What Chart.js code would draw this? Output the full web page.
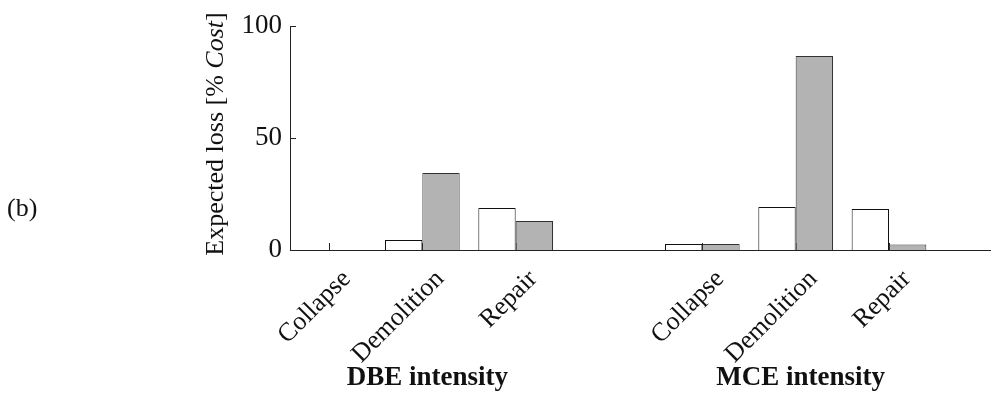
<!DOCTYPE html>
<html>
<head>
<meta charset="utf-8">
<script src="https://cdn.jsdelivr.net/npm/chart.js@4/dist/chart.umd.min.js"></script>
<style>
  html, body { margin: 0; padding: 0; background: #fff; }
  #wrap { width: 991px; height: 394px; position: relative; }
</style>
</head>
<body>
<div id="wrap"><canvas id="lossChart"></canvas></div>
<script>
// categories along the x axis (one empty slot between the two intensities)
const categories = ['Collapse', 'Demolition', 'Repair', 'Collapse', 'Demolition', 'Repair'];
const positions = [1, 2, 3, 5, 6, 7];
// expected loss [% Cost]
const whiteBars = [0, 4.5, 18.8, 2.7, 19.2, 18.3];
const greyBars = [0, 34.4, 12.9, 2.7, 86.6, 2.5];
const groupLabels = ['DBE intensity', 'MCE intensity'];
const groupCentres = [2, 6];
const yTicks = [0, 50, 100];

const serif = '"Liberation Serif", "Times New Roman", serif';
const labelShift = 0.19; // rotated names sit a little right of their bars

const toPoints = vals => vals.map((v, i) => ({ x: positions[i], y: v }));

// inward ticks, group names, y title and panel letter
const extras = {
    id: 'extras',
    beforeDatasetsDraw(chart) {
        const ctx = chart.ctx;
        const xs = chart.scales.x, ys = chart.scales.y;
        ctx.save();
        ctx.strokeStyle = '#222';
        ctx.lineWidth = 1;
        ctx.beginPath();
        yTicks.forEach(v => {
            const py = Math.round(ys.getPixelForValue(v)) + 0.5;
            ctx.moveTo(xs.left, py);
            ctx.lineTo(xs.left + 6, py);
        });
        positions.forEach(p => {
            const px = Math.round(xs.getPixelForValue(p)) + 0.5;
            ctx.moveTo(px, ys.bottom);
            ctx.lineTo(px, ys.bottom - 7);
        });
        ctx.stroke();
        ctx.restore();
    },
    afterDraw(chart) {
        const ctx = chart.ctx;
        const xs = chart.scales.x, ys = chart.scales.y;
        ctx.save();
        ctx.fillStyle = '#111';

        // group labels under the rotated category names
        ctx.font = 'bold 27px ' + serif;
        ctx.textAlign = 'center';
        ctx.textBaseline = 'alphabetic';
        groupLabels.forEach((g, i) => {
            ctx.fillText(g, xs.getPixelForValue(groupCentres[i]) + 5, 385);
        });

        // y axis title with italic "Cost"
        const parts = [
            { t: 'Expected loss [% ', f: '26px ' + serif },
            { t: 'Cost', f: 'italic 26px ' + serif },
            { t: ']', f: '26px ' + serif }
        ];
        let total = 0;
        parts.forEach(p => { ctx.font = p.f; p.w = ctx.measureText(p.t).width; total += p.w; });
        ctx.translate(216, (ys.top + ys.bottom) / 2 - 4);
        ctx.rotate(-Math.PI / 2);
        ctx.textAlign = 'left';
        ctx.textBaseline = 'middle';
        let cx = -total / 2;
        parts.forEach(p => { ctx.font = p.f; ctx.fillText(p.t, cx, 0); cx += p.w; });
        ctx.setTransform(1, 0, 0, 1, 0, 0);

        // panel letter
        ctx.font = '26px ' + serif;
        ctx.textAlign = 'left';
        ctx.textBaseline = 'middle';
        ctx.fillText('(b)', 7, 209);
        ctx.restore();
    }
};

const ctx = document.getElementById('lossChart').getContext('2d');
const lossChart = new Chart(ctx, {
    type: 'bar',
    data: {
        datasets: [
            {
                label: 'white',
                data: toPoints(whiteBars),
                backgroundColor: '#ffffff',
                borderColor: '#111111',
                borderWidth: 1
            },
            {
                label: 'grey',
                data: toPoints(greyBars),
                backgroundColor: '#b3b3b3',
                borderColor: '#333333',
                borderWidth: 1
            }
        ]
    },
    options: {
        responsive: true,
        maintainAspectRatio: false,
        animation: false,
        layout: { padding: { top: 26, left: 0, right: 0, bottom: 0 } },
        datasets: { bar: { categoryPercentage: 0.8, barPercentage: 1.0 } },
        scales: {
            x: {
                type: 'linear',
                offset: false,
                min: 0.582,
                max: 8.093,
                grid: { display: false, drawTicks: false },
                border: { display: true, color: '#222', width: 1 },
                afterBuildTicks: s => { s.ticks = positions.map(v => ({ value: v + labelShift })); },
                afterFit: s => { s.height = 144; },
                ticks: {
                    minRotation: 45,
                    maxRotation: 45,
                    autoSkip: false,
                    padding: 14,
                    color: '#111',
                    font: { family: serif, size: 26 },
                    callback: v => categories[positions.indexOf(Math.round(v - labelShift))] || ''
                }
            },
            y: {
                min: 0,
                max: 100,
                grid: { display: false, drawTicks: false },
                border: { display: true, color: '#222', width: 1 },
                afterBuildTicks: s => { s.ticks = yTicks.map(v => ({ value: v })); },
                afterFit: s => { s.width = 290; },
                ticks: {
                    padding: 8,
                    color: '#111',
                    font: { family: serif, size: 27 }
                }
            }
        },
        plugins: {
            legend: { display: false },
            tooltip: { enabled: false }
        }
    },
    plugins: [extras]
});
</script>
</body>
</html>
